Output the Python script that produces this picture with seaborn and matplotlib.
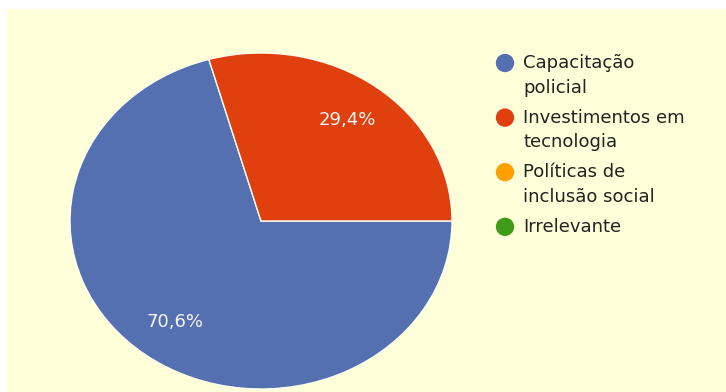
import matplotlib
matplotlib.use("Agg")
import matplotlib.pyplot as plt
import seaborn as sns

# Survey answers and their shares (%)
categories = [
    "Capacitação\npolicial",
    "Investimentos em\ntecnologia",
    "Políticas de\ninclusão social",
    "Irrelevante",
]
shares = [70.6, 29.4, 0.0, 0.0]
slice_colors = ["#5470B1", "#E0400E", "#FFA000", "#3F9C17"]

sns.set_theme(style="white")
plt.rcParams["font.family"] = ["DejaVu Sans"]

W, H = 726, 392
fig = plt.figure(figsize=(W / 100, H / 100), dpi=100, facecolor="white")

# pale yellow chart panel
bg = fig.add_axes([7 / W, 0, 1 - 7 / W, (H - 9) / H])
bg.set_facecolor("#FFFFD9")
bg.set_xticks([])
bg.set_yticks([])
for s in bg.spines.values():
    s.set_visible(False)

# pie (slightly wider than tall)
cx, cy, rx, ry = 261, 221, 191, 168
pie_ax = fig.add_axes([(cx - rx) / W, (H - cy - ry) / H, 2 * rx / W, 2 * ry / H])
pie_ax.patch.set_alpha(0)
drawn = [(v, c) for v, c in zip(shares, slice_colors) if v > 0]
vals = [v for v, _ in drawn]
cols = [c for _, c in drawn]
start = 360 * vals[-1] / sum(vals)
wedges, texts, autotexts = pie_ax.pie(
    vals,
    colors=cols,
    startangle=start,
    counterclock=True,
    pctdistance=0.75,
    autopct=lambda p: f"{p:.1f}".replace(".", ",") + "%",
    wedgeprops=dict(edgecolor="#FFFFEE", linewidth=1.0),
    textprops=dict(color="#F4F4F4", fontsize=13),
)
pie_ax.set_aspect("auto")
pie_ax.set_xlim(-1, 1)
pie_ax.set_ylim(-1, 1)

# legend drawn in pixel coordinates
ov = fig.add_axes([0, 0, 1, 1])
ov.set_xlim(0, W)
ov.set_ylim(H, 0)
ov.axis("off")
ov.patch.set_alpha(0)
entry_step, line_step = 54.6, 24.5
for i, (label, col) in enumerate(zip(categories, slice_colors)):
    base = 68 + i * entry_step
    ov.scatter([505], [base - 5], s=175, color=col, edgecolors="none")
    for j, line in enumerate(label.split("\n")):
        ov.text(523, base + j * line_step, line, fontsize=13, color="#222222",
                va="baseline", ha="left")

fig.savefig("out.png", dpi=100, facecolor="white")
